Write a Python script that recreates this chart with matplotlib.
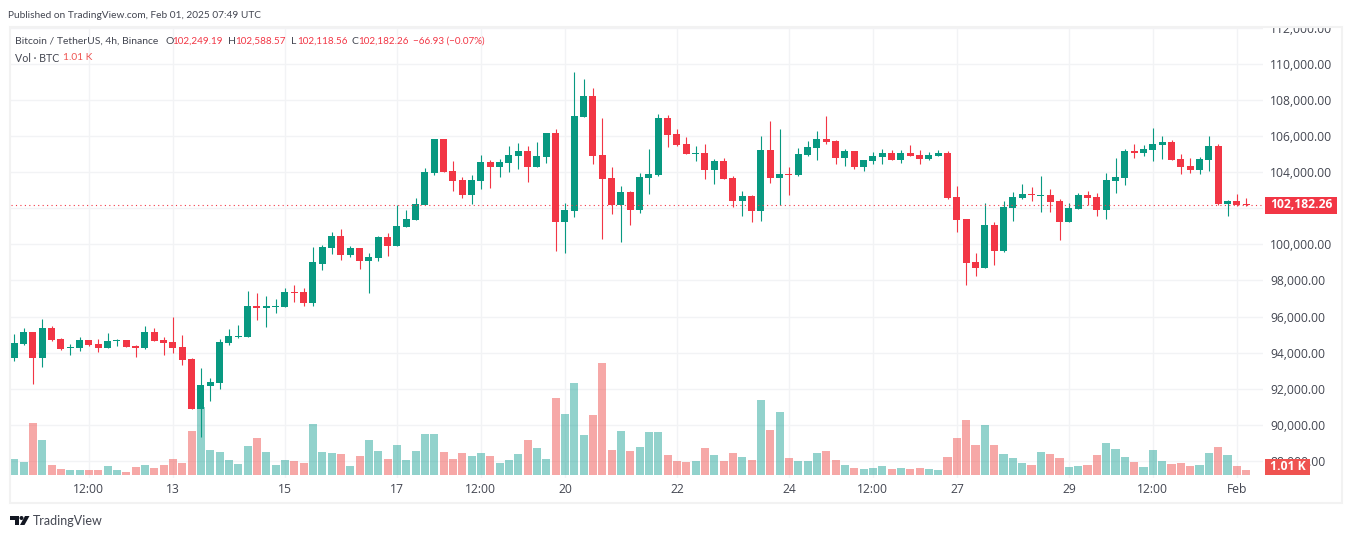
import matplotlib
matplotlib.use('Agg')
import matplotlib.pyplot as plt
from matplotlib.patches import Rectangle, Polygon, Circle
from matplotlib.transforms import Bbox, TransformedBbox

plt.rcParams['font.family'] = ['Open Sans', 'DejaVu Sans']

# BTCUSDT 4h candles
opens = [93685, 94463, 95130, 93685, 95352, 94741, 94241, 94241, 94685, 94463,
         94241, 94630, 94685, 94352, 94241, 95130, 94685, 94574, 94296, 93629,
         90852, 92129, 92296, 94518, 94852, 94852, 96574, 96463, 96518, 96518,
         97352, 97352, 96741, 98907, 99796, 100462, 99407, 99796, 99073, 99240,
         100407, 99907, 100962, 101351, 102185, 103963, 105852, 104074, 103574, 102740,
         103518, 104574, 104296, 104518, 104907, 105185, 104296, 104852, 106185, 101240,
         101851, 107074, 108241, 104963, 103685, 102185, 102907, 101907, 103685, 103851,
         107018, 106129, 105574, 105018, 105074, 104129, 104629, 103685, 102407, 102685,
         101851, 105240, 103685, 103907, 103851, 104963, 105352, 105852, 105740, 104796,
         105185, 104296, 104629, 104852, 105074, 104685, 105074, 104963, 104740, 104907,
         105074, 102629, 101407, 99018, 98685, 101074, 99629, 102018, 102574, 102796,
         102685, 102740, 102407, 101240, 101963, 102740, 102629, 101907, 103518, 103685,
         105185, 105074, 105241, 105518, 105685, 104741, 104352, 104129, 104685, 105463,
         102240, 102407, 102249.19]
highs = [95018, 95352, 95130, 95852, 95463, 94796, 94463, 94852, 94685, 94741,
         95074, 94741, 94685, 94407, 95463, 95352, 94852, 95963, 94963, 93685,
         93129, 92574, 94741, 95296, 95518, 97407, 97296, 97130, 96963, 97574,
         97741, 97574, 99852, 99962, 100685, 100851, 99907, 99796, 99518, 100462,
         100629, 102185, 101907, 102574, 104241, 105852, 105852, 104629, 103740, 103852,
         104963, 104685, 104741, 105463, 105630, 105463, 105685, 106185, 106407, 102296,
         109574, 109185, 108685, 107018, 104296, 103240, 102962, 103963, 105296, 107241,
         107185, 106407, 105963, 105463, 105574, 104740, 104796, 103796, 102962, 102740,
         106018, 106852, 106407, 104296, 105352, 105740, 106296, 107129, 105796, 105296,
         105185, 104685, 105129, 105296, 105240, 105240, 105518, 105240, 105129, 105240,
         105185, 103240, 101407, 99518, 102296, 101240, 102407, 102907, 103352, 103185,
         103796, 103074, 102518, 102296, 102852, 102963, 102852, 103963, 104796, 105296,
         105574, 105518, 106463, 106018, 105796, 105018, 104796, 104852, 106018, 105574,
         102463, 102796, 102588.57]
lows = [93518, 94407, 92241, 93185, 94630, 94130, 93852, 94074, 94352, 94018,
        94241, 94352, 94296, 93741, 94185, 94630, 93852, 93963, 93296, 90852,
        89296, 91296, 91963, 94407, 94796, 94852, 95796, 95407, 96185, 96518,
        96796, 96574, 96574, 98573, 99462, 99129, 99296, 98629, 97296, 99073,
        99351, 99907, 100962, 101351, 102185, 103852, 104018, 102963, 102574, 102240,
        103074, 103129, 103740, 104018, 104185, 103463, 104296, 104518, 99629, 99518,
        101518, 107074, 104463, 100296, 101685, 100129, 101073, 101740, 102796, 103796,
        105407, 105463, 105018, 104629, 103629, 103351, 103629, 102073, 101573, 101240,
        101296, 103407, 102185, 102740, 103796, 104907, 104685, 105574, 104463, 104351,
        104185, 104074, 104463, 104463, 104685, 104518, 104907, 104463, 104700, 104907,
        102518, 100685, 97740, 98240, 98685, 98851, 99573, 101296, 102518, 102407,
        101796, 101796, 100240, 101240, 101963, 102185, 101574, 101407, 102852, 103296,
        104796, 104907, 104629, 104741, 104685, 103907, 103963, 103907, 104074, 102185,
        101574, 102129, 102118.56]
closes = [94518, 95130, 93685, 95352, 94685, 94185, 94296, 94685, 94407, 94241,
          94630, 94685, 94296, 94241, 95130, 94630, 94518, 94241, 93574, 90852,
          92185, 92352, 94574, 94907, 94907, 96574, 96463, 96574, 96574, 97352,
          97296, 96741, 99019, 99851, 100462, 99407, 99796, 99073, 99296, 100407,
          99907, 101018, 101407, 102240, 104018, 105852, 104018, 103518, 102740, 103574,
          104574, 104296, 104574, 104963, 105185, 104296, 104907, 106185, 101240, 101907,
          107130, 108241, 104907, 103629, 102185, 102907, 101907, 103740, 103907, 107018,
          106074, 105518, 105018, 105074, 104129, 104629, 103629, 102407, 102685, 101851,
          105240, 103685, 103907, 103851, 105018, 105407, 105852, 105685, 104796, 105185,
          104296, 104685, 104907, 105074, 104685, 105074, 104907, 104740, 104963, 105074,
          102574, 101351, 98962, 98685, 101074, 99629, 102074, 102629, 102796, 102740,
          102740, 102351, 101240, 102018, 102740, 102574, 101907, 103574, 103741, 105185,
          105074, 105296, 105574, 105685, 104685, 104296, 104129, 104741, 105463, 102240,
          102407, 102185, 102182.26]
# volume in thousands of BTC
volumes = [3.23, 2.63, 10.5, 7.07, 2.02, 1.21, 1.01, 1.01, 1.01, 1.01,
           1.82, 1.01, 0.61, 1.62, 2.02, 1.41, 2.02, 3.23, 2.42, 8.89,
           13.73, 5.05, 4.65, 3.03, 2.22, 5.86, 7.47, 4.65, 2.02, 3.03,
           2.83, 2.42, 10.3, 4.65, 4.44, 4.24, 1.82, 3.84, 7.07, 4.85,
           3.23, 6.06, 3.03, 4.85, 8.28, 8.28, 4.65, 3.23, 4.44, 3.84,
           4.44, 3.84, 2.42, 3.03, 4.24, 7.07, 5.45, 3.23, 15.55, 12.32,
           18.58, 8.08, 12.12, 22.62, 5.05, 8.89, 4.85, 5.66, 8.68, 8.68,
           4.04, 2.83, 2.63, 2.83, 5.45, 4.04, 2.83, 4.44, 3.64, 3.03,
           15.15, 9.09, 12.72, 3.43, 2.83, 2.83, 4.44, 4.85, 3.03, 2.02,
           1.41, 1.21, 1.41, 1.82, 1.21, 1.41, 1.21, 1.41, 1.21, 1.01,
           3.64, 7.47, 11.11, 6.06, 10.1, 6.06, 4.24, 3.43, 2.42, 2.02,
           4.65, 4.24, 3.43, 1.62, 1.82, 2.02, 4.04, 6.46, 5.25, 3.64,
           2.63, 1.62, 5.05, 2.83, 2.22, 2.42, 1.82, 2.02, 4.44, 5.66,
           4.04, 1.82, 1.01]

# x axis: candle number of each labelled time
time_ticks = [8, 17, 29, 41, 50, 59, 71, 83, 92, 101, 113, 122, 131]
time_labels = ['12:00', '13', '15', '17', '12:00', '20', '22', '24', '12:00', '27', '29', '12:00', 'Feb']
price_ticks = list(range(88000, 112001, 2000))
# 102,000.00 sits behind the last price tag
price_labels = ['' if p == 102000 else f'{p:,.2f}' for p in price_ticks]

GREEN = '#089981'
RED = '#f23645'
VOL_GREEN = '#26a69a'
VOL_RED = '#ef5350'
GRID = '#f2f3f5'
BORDER = '#f2f2f2'
TEXT = '#434651'

W, H = 1352, 538
fig = plt.figure(figsize=(W / 100, H / 100), dpi=100)
fig.patch.set_facecolor('white')

# pane rectangle in pixels
left, right, top, bottom = 11, 1263, 28, 478
rect = [left / W, 1 - bottom / H, (right - left) / W, (bottom - top) / H]

xlim = (-0.354, 133.8)
ylim = (87042, 112008)

# bottom axes has grid and labels, then volume, then candles
ax = fig.add_axes(rect, zorder=1)
ax.set_xlim(xlim)
ax.set_ylim(ylim)
ax.yaxis.tick_right()
ax.set_yticks(price_ticks)
ax.set_yticklabels(price_labels, fontsize=8.7, color=TEXT)
ax.set_xticks(time_ticks)
ax.set_xticklabels(time_labels, fontsize=8.7, color=TEXT)
ax.tick_params(axis='both', length=0)
ax.tick_params(axis='y', pad=5)
ax.tick_params(axis='x', pad=3.5)
ax.grid(True, color=GRID, lw=1)
for s in ax.spines.values():
    s.set_visible(False)

# the top label is cut by the pane edge
fig.canvas.draw()
clip = TransformedBbox(Bbox([[0, 0], [1, 1 - top / H]]), fig.transFigure)
for lab in ax.get_yticklabels():
    if lab.get_text().startswith('112'):
        lab.set_clip_box(clip)
        lab.set_clip_on(True)

ax_vol = fig.add_axes(rect, zorder=2, sharex=ax)
ax_vol.set_ylim(-0.606, 90.3)
ax_vol.patch.set_visible(False)
ax_vol.axis('off')

ax_c = fig.add_axes(rect, zorder=3, sharex=ax, sharey=ax)
ax_c.patch.set_visible(False)
ax_c.axis('off')

xs = list(range(len(opens)))
up = [c >= o for o, c in zip(opens, closes)]
colors = [GREEN if u else RED for u in up]
vol_colors = [VOL_GREEN if u else VOL_RED for u in up]

ax_vol.bar(xs, volumes, width=0.87, color=vol_colors, alpha=0.5, linewidth=0)

ax_c.vlines(xs, lows, highs, colors=colors, lw=0.8)
ax_c.bar(xs, [abs(c - o) for o, c in zip(opens, closes)],
         bottom=[min(o, c) for o, c in zip(opens, closes)],
         width=0.75, color=colors, linewidth=0)
ax_c.axhline(closes[-1], color=RED, lw=0.8, ls=(0, (1, 3)))
ax_c.set_xlim(xlim)
ax_c.set_ylim(ylim)

# page furniture drawn in pixel coordinates on top
ov = fig.add_axes([0, 0, 1, 1], zorder=4)
ov.set_xlim(0, W)
ov.set_ylim(H, 0)
ov.axis('off')
ov.patch.set_visible(False)

ov.add_patch(Rectangle((10, 27), 1332, 476, fill=False, ec=BORDER, lw=1.5))


def txt(x, y, s, color=TEXT, **kw):
    kw.setdefault('fontsize', 7.3)
    kw.setdefault('family', ['Lato', 'DejaVu Sans'])
    ov.text(x, y, s, color=color, va='center', ha=kw.pop('ha', 'left'), **kw)


txt(8, 15, 'Published on TradingView.com, Feb 01, 2025 07:49 UTC', fontsize=7.25)
txt(15, 41, 'Bitcoin / TetherUS, 4h, Binance', fontsize=7.5)
for x, s in [(165, 'O'), (228, 'H'), (291, 'L'), (351, 'C')]:
    txt(x, 41, s, fontsize=7.5)
for x, s in [(172, '102,249.19'), (235, '102,588.57'), (297, '102,118.56'),
             (358, '102,182.26'), (413, '\u221266.93 (\u22120.07%)')]:
    txt(x, 41, s, color=RED, fontsize=7.1)
txt(15, 58, 'Vol \u00b7 BTC', fontsize=7.7)
txt(63, 58, '1.01 K', color=VOL_RED)

# last price and last volume tags
ov.add_patch(Rectangle((1265, 197), 72, 17, fc=RED, ec='none'))
txt(1301, 205, f'{closes[-1]:,.2f}', color='white', ha='center', fontweight='bold',
    fontsize=8.7, family=['Open Sans', 'DejaVu Sans'])
ov.add_patch(Rectangle((1265, 459), 45, 16, fc=VOL_RED, ec='none'))
txt(1287.5, 467, f'{volumes[-1]:.2f} K', color='white', ha='center', fontweight='bold',
    fontsize=8.7, family=['Open Sans', 'DejaVu Sans'])

# TradingView logo
ov.add_patch(Polygon([(10, 516), (19, 516), (19, 525), (15, 525), (15, 520), (10, 520)], fc='#131722', ec='none'))
ov.add_patch(Circle((21.5, 518), 2, fc='#131722', ec='none'))
ov.add_patch(Polygon([(25, 516), (29.5, 516), (24.5, 525), (20, 525)], fc='#131722', ec='none'))
txt(33, 521, 'TradingView', fontsize=9, family=['Lato', 'DejaVu Sans'])

fig.savefig('out.png', dpi=100)
